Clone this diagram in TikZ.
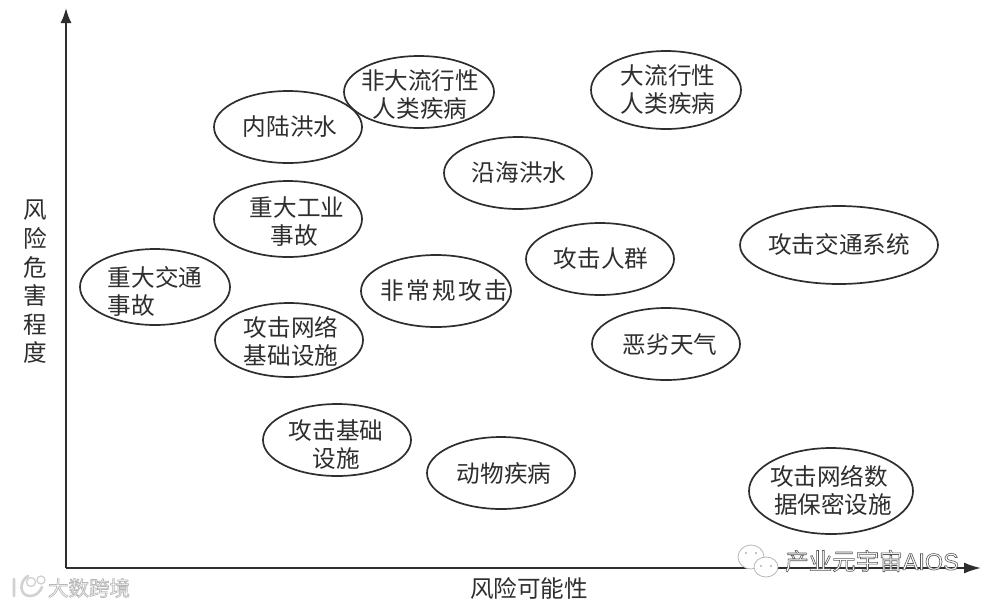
\documentclass[tikz,border=0pt]{standalone}
\usepackage{fontspec}
\setmainfont{Noto Sans CJK SC}
\setsansfont{Liberation Sans}
\usetikzlibrary{shapes.geometric,arrows.meta}
\definecolor{ink}{HTML}{2E2E2E}
\tikzset{
  risk/.style={draw=ink,line width=1.7pt,ellipse,inner sep=0pt},
  axisline/.style={draw=ink,line width=1.8pt},
  lab/.style={text=ink,font=\fontsize{23.6}{28}\selectfont,align=center,inner sep=0pt},
  bubble/.style={fill=white,draw=black!28,line width=.8pt}
}
% name, cx, cy, width, height, text cx, text cy, text
\newcommand{\riskell}[8]{\node[risk,minimum width=#4pt,minimum height=#5pt] (#1) at (#2,#3) {};
  \node[lab] (#1t) at (#6,#7) {#8};}
\newcommand{\outl}[2]{\special{pdf:code q 2 Tr #1 G #2 w}}
\newcommand{\outlend}{\special{pdf:code Q}}
\begin{document}
\begin{tikzpicture}[x=1pt,y=-1pt]
\useasboundingbox (0,0) rectangle (990,606);
\fill[white] (0,0) rectangle (990,606);
\coordinate (o) at (66,568);
\coordinate (ytop) at (66,8);
\coordinate (xend) at (981,568);
\draw[axisline,-{Latex[length=15pt,width=11pt]}] (o) -- (ytop);
\draw[axisline,-{Latex[length=17pt,width=11pt]}] (o) -- (xend);
\riskell{a}{288}{127}{148}{72}{290}{127}{内陆洪水}
\riskell{b}{419}{92}{150}{72}{420}{95}{非大流行性\\人类疾病}
\riskell{c}{666}{90}{150}{78}{668}{90}{大流行性\\人类疾病}
\riskell{d}{518}{173}{148}{72}{519}{173}{沿海洪水}
\riskell{e}{288}{219}{148}{76}{297}{222}{重大工业\\事故\hspace*{6pt}}
\riskell{f}{155}{287}{150}{76}{155}{291}{重大交通\\事故\hspace*{48pt}}
\riskell{g}{436}{291}{150}{72}{444}{291}{非\hspace{2.5pt}常\hspace{2.5pt}规\hspace{2.5pt}攻\hspace{2.5pt}击}
\riskell{h}{600}{259}{148}{72}{601}{259}{攻击人群}
\riskell{i}{839}{245}{198}{78}{839}{244}{攻击交通系统}
\riskell{j}{289}{340}{148}{74}{291}{341}{攻击网络\\基础设施}
\riskell{k}{666}{344}{148}{72}{670}{344}{恶劣天气}
\riskell{l}{337}{440}{148}{72}{336}{445}{攻击基础\\设施}
\riskell{m}{501}{473}{148}{72}{504}{473}{动物疾病}
\riskell{n}{831}{491}{164}{86}{831}{490}{攻击网络数\hspace*{4pt}\\\hspace*{4pt}据保密设施}
\node[lab,font=\fontsize{23.6}{28.6}\selectfont] (ylab) at (35,282) {风\\险\\危\\害\\程\\度};
\node[lab] (xlab) at (529,588) {风险可能性};
% watermarks
\draw[black!18,line width=2.6pt,line cap=round] (14,579) -- (14,596) (28,576) .. controls (19,581) and (19,596) .. (30,596) .. controls (36,596) and (40,592) .. (42,587);
\draw[black!18,line width=1.3pt] (31,582) circle (4.5) (41,580) circle (4);
\node[inner sep=0pt,text=white,font=\fontsize{20.5}{20.5}\selectfont] (wm1) at (89,588) {\outl{0.72}{0.7}大数跨境\outlend};
\path[bubble] (751,557) ellipse (13 and 12);
\fill[black!30] (746,553) circle (1.1) (756,553) circle (1.1);
\path[bubble] (766,567) ellipse (12 and 10);
\fill[black!30] (761,566) circle (1.1) (771,566) circle (1.1);
\node[inner sep=0pt,text=white,font=\fontsize{23.5}{23.5}\selectfont] (wm2) at (872,561) {\outl{0.35}{0.6}产业元宇宙{\sffamily AIOS}\outlend};
\end{tikzpicture}
\end{document}
